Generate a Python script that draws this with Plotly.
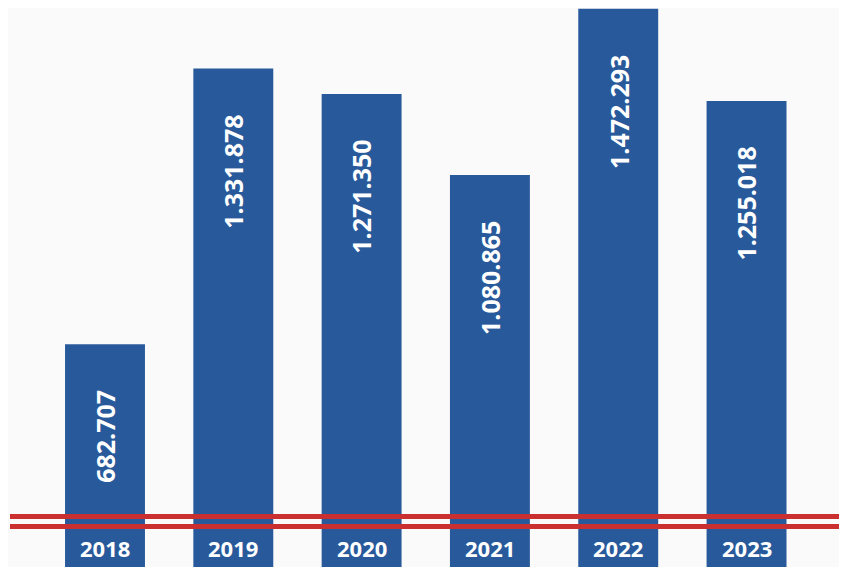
import plotly.graph_objects as go

years = [2018, 2019, 2020, 2021, 2022, 2023]
values = [682707, 1331878, 1271350, 1080865, 1472293, 1255018]
value_labels = ['682.707', '1.331.878', '1.271.350', '1.080.865', '1.472.293', '1.255.018']

bar_color = '#285a9b'
red = '#c9302f'
bg = '#fafafa'

# trang co le 8px, nen hinh nho hon cua so 8px
W, H = 839, 559

fig = go.Figure()
fig.add_trace(go.Bar(
    x=years, y=values, width=0.623,
    marker=dict(color=bar_color, line=dict(width=0)),
    hoverinfo='skip',
))

# so lieu doc tren dau cot
for yr, v, lbl in zip(years, values, value_labels):
    fig.add_annotation(
        x=yr, y=v, xref='x', yref='y', text=f"<b>{lbl}</b>", textangle=-90,
        xanchor='center', yanchor='top', yshift=-44, showarrow=False,
        font=dict(family='Open Sans', size=25, color='white'),
    )
    # nam o chan cot
    fig.add_annotation(
        x=yr, y=0, xref='x', yref='paper', text=f"<b>{yr}</b>",
        xanchor='center', yanchor='bottom', yshift=2, showarrow=False,
        font=dict(family='Open Sans', size=22, color='white'),
    )

# hai vach do
for yy in [508.5, 518.5]:
    fig.add_shape(type='line', xref='paper', yref='paper',
                  x0=2 / W, x1=1, y0=1 - yy / H, y1=1 - yy / H,
                  line=dict(color=red, width=5))

axis_off = dict(showticklabels=False, showgrid=False, zeroline=False, showline=False, ticks='')
fig.update_xaxes(type='linear', range=[years[0] - 0.756, years[0] + 5.783], **axis_off)
fig.update_yaxes(range=[158600, 1474000], **axis_off)
fig.update_layout(
    width=W, height=H, margin=dict(l=0, r=0, t=0, b=0),
    paper_bgcolor=bg, plot_bgcolor=bg, showlegend=False,
)
fig.write_html("out.html")
